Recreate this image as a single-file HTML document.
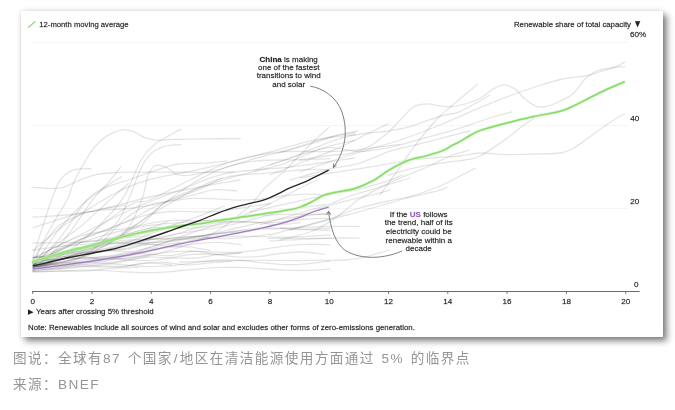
<!DOCTYPE html>
<html><head><meta charset="utf-8"><title>chart</title>
<style>
html,body{margin:0;padding:0;background:#fff;}
body{width:675px;height:410px;position:relative;overflow:hidden;font-family:"Liberation Sans","Noto Sans CJK SC",sans-serif;}
.card{position:absolute;left:21px;top:11px;width:642px;height:326px;background:#fff;box-shadow:4px 4px 6.5px rgba(0,0,0,0.48),0 0 5px rgba(0,0,0,0.13);}
.cap{will-change:transform;position:absolute;left:13px;color:#959595;font-size:13.6px;letter-spacing:1.4px;font-weight:400;white-space:nowrap;line-height:20px;word-spacing:1.7px;}
.cap i{font-style:normal;margin:0 0.9px;}
</style></head><body>
<div class="card"></div>
<svg width="675" height="410" viewBox="0 0 675 410" style="position:absolute;left:0;top:0;will-change:transform">
<line x1="32" y1="42.5" x2="628" y2="42.5" stroke="#f5f5f5" stroke-width="1"/>
<line x1="32" y1="125.5" x2="628" y2="125.5" stroke="#f5f5f5" stroke-width="1"/>
<line x1="32" y1="208.5" x2="628" y2="208.5" stroke="#f5f5f5" stroke-width="1"/>
<g style="filter:blur(0.45px)">
<g fill="none" stroke="#000" stroke-opacity="0.105" stroke-width="1.3" stroke-linecap="round">
<path d="M300.0,160.0 C305.0,159.2 321.8,156.6 330.0,155.5 C338.2,154.4 343.0,155.1 349.5,153.6 C356.0,152.1 364.1,149.0 369.0,146.7 C373.9,144.4 375.5,142.3 378.8,139.9 C382.1,137.5 385.4,134.9 388.6,132.0 C391.9,129.1 395.1,125.7 398.3,122.3 C401.5,118.9 405.1,114.4 408.0,111.6 C410.9,108.8 412.6,107.0 415.9,105.7 C419.2,104.4 423.7,103.8 427.6,103.8 C431.5,103.8 435.4,105.2 439.3,105.7 C443.2,106.2 446.7,107.0 451.0,106.7 C455.3,106.4 460.2,105.4 465.0,104.0 C469.8,102.6 475.3,100.8 480.0,98.3 C484.7,95.8 489.4,91.1 493.4,88.9 C497.4,86.7 500.5,84.9 504.1,84.9 C507.7,84.9 511.3,86.5 514.9,88.9 C518.5,91.4 522.0,96.7 525.6,99.6 C529.2,102.5 532.7,105.2 536.3,106.3 C539.9,107.4 543.0,107.2 547.0,106.3 C551.0,105.4 556.0,103.2 560.5,101.0 C565.0,98.8 569.9,96.5 573.9,92.9 C577.9,89.3 581.0,83.1 584.6,79.5 C588.2,75.9 591.3,73.4 595.3,71.5 C599.3,69.6 603.8,69.0 608.7,68.2 C613.6,67.4 622.1,66.9 624.8,66.6"/>
<path d="M300.0,172.0 C303.3,170.8 311.7,167.8 320.0,165.0 C328.3,162.2 336.7,159.2 350.0,155.0 C363.3,150.8 385.0,145.0 400.0,140.0 C415.0,135.0 426.7,130.4 440.0,125.0 C453.3,119.6 468.9,112.4 480.0,107.7 C491.1,103.0 497.9,100.3 506.8,96.9 C515.7,93.5 524.6,90.4 533.6,87.5 C542.6,84.6 551.5,81.5 560.5,79.5 C569.5,77.5 580.6,76.8 587.3,75.5 C594.0,74.2 596.2,72.8 600.7,71.5 C605.2,70.2 610.0,69.0 614.0,67.4 C618.0,65.8 623.0,62.9 624.8,62.0"/>
<path d="M300.0,178.0 C305.0,177.2 318.5,174.8 330.0,173.0 C341.5,171.2 356.0,169.3 369.0,167.2 C382.0,165.1 396.6,162.0 408.0,160.4 C419.4,158.8 428.7,158.2 437.4,157.5 C446.1,156.8 452.9,156.8 460.0,156.0 C467.1,155.2 472.2,153.2 480.0,153.0 C487.8,152.8 497.9,154.4 506.8,154.6 C515.7,154.8 524.6,154.3 533.6,154.0 C542.6,153.7 553.8,154.0 560.5,153.0 C567.2,152.0 569.4,150.3 573.9,147.9 C578.4,145.5 582.8,141.7 587.3,138.5 C591.8,135.3 596.2,132.1 600.7,129.0 C605.2,125.9 610.0,122.2 614.0,119.7 C618.0,117.2 623.0,114.8 624.8,113.8"/>
<path d="M388.6,175.0 C393.5,173.7 408.1,169.3 417.8,167.2 C427.5,165.1 439.1,163.5 447.0,162.3 C454.9,161.1 459.5,161.1 465.0,160.0 C470.5,158.9 473.0,159.6 480.0,156.0 C487.0,152.4 500.1,143.2 506.8,138.5 C513.5,133.8 515.5,131.2 520.0,127.8 C524.5,124.5 530.0,120.9 533.6,118.4 C537.2,115.9 540.4,113.9 541.7,113.0"/>
<path d="M380.0,195.0 C382.4,191.7 389.7,181.6 394.4,175.0 C399.1,168.4 404.1,161.0 408.0,155.5 C411.9,150.0 414.5,146.1 417.8,141.8 C421.1,137.6 424.0,134.2 427.6,130.0 C431.2,125.8 435.4,120.4 439.3,116.5 C443.2,112.6 447.6,109.6 451.0,106.7 C454.4,103.8 455.5,102.7 460.0,98.9 C464.5,95.1 475.0,86.5 478.0,84.0"/>
<path d="M255.0,170.0 C260.8,168.0 277.5,162.7 290.0,158.0 C302.5,153.3 320.1,145.5 330.0,141.8 C339.9,138.1 343.0,137.5 349.5,136.0 C356.0,134.5 362.5,133.8 369.0,133.0 C375.5,132.2 382.1,132.0 388.6,131.0 C395.1,130.0 401.5,129.0 408.0,127.2 C414.5,125.4 421.1,122.5 427.6,120.4 C434.1,118.3 441.6,116.0 447.0,114.5 C452.4,113.0 452.8,114.8 460.0,111.6 C467.2,108.3 485.0,97.8 490.0,95.0"/>
<path d="M270.0,165.0 C275.0,163.3 290.0,157.9 300.0,155.0 C310.0,152.1 320.1,148.3 330.0,147.7 C339.9,147.1 349.5,151.6 359.3,151.6 C369.1,151.6 378.9,149.6 388.6,147.7 C398.4,145.8 409.4,142.2 417.8,139.9 C426.2,137.6 432.3,135.9 439.3,134.0 C446.3,132.1 451.6,130.9 460.0,128.2 C468.4,125.5 481.3,120.7 490.0,118.0 C498.7,115.3 508.3,113.0 512.0,112.0"/>
<path d="M270.0,175.0 C275.0,173.0 290.0,166.9 300.0,163.0 C310.0,159.1 321.8,155.0 330.0,151.6 C338.2,148.2 343.0,145.9 349.5,142.8 C356.0,139.7 362.6,136.2 369.0,133.0 C375.4,129.8 385.0,125.4 388.2,123.9"/>
<path d="M280.0,152.0 C285.0,150.5 301.7,145.5 310.0,143.0 C318.3,140.5 322.1,139.0 330.0,137.0 C337.9,135.0 352.8,132.0 357.3,131.0"/>
<path d="M290.0,180.0 C296.7,178.2 318.4,171.8 330.0,169.0 C341.6,166.2 349.5,166.2 359.3,163.3 C369.1,160.4 380.5,154.4 388.6,151.6 C396.7,148.8 401.5,148.3 408.0,146.7 C414.5,145.1 420.6,143.6 427.6,141.8 C434.6,140.0 442.9,137.8 450.0,136.0 C457.1,134.2 466.7,131.8 470.0,131.0"/>
<path d="M280.0,240.0 C285.0,238.7 301.7,235.1 310.0,232.0 C318.3,228.9 324.1,225.3 330.0,221.6 C335.9,217.9 340.7,213.7 345.6,209.9 C350.5,206.1 353.8,202.6 359.3,199.0 C364.8,195.4 372.3,191.8 378.8,188.4 C385.3,185.0 391.8,181.6 398.3,178.7 C404.8,175.8 412.3,173.2 417.8,170.9 C423.3,168.6 426.1,167.5 431.5,165.0 C436.9,162.5 443.6,158.5 450.0,156.0 C456.4,153.5 466.7,151.0 470.0,150.0"/>
<path d="M270.0,235.0 C275.0,233.7 290.0,229.7 300.0,227.0 C310.0,224.3 320.1,221.9 330.0,218.7 C339.9,215.5 349.5,210.9 359.3,208.0 C369.1,205.1 378.9,203.1 388.6,201.0 C398.4,198.9 409.4,197.1 417.8,195.3 C426.2,193.5 434.4,191.7 439.3,190.4 C444.2,189.1 445.7,187.9 447.0,187.4"/>
<path d="M260.0,225.0 C266.7,223.0 288.3,216.5 300.0,213.0 C311.7,209.5 321.8,206.8 330.0,204.0 C338.2,201.2 343.0,198.3 349.5,196.0 C356.0,193.7 362.5,192.3 369.0,190.4 C375.5,188.5 381.8,186.6 388.6,184.5 C395.4,182.4 406.4,179.1 410.0,178.0"/>
<path d="M250.0,212.0 C256.7,210.5 276.7,205.9 290.0,203.0 C303.3,200.1 318.5,196.6 330.0,194.3 C341.5,192.0 349.2,191.3 359.0,189.0 C368.8,186.7 381.4,182.9 388.6,180.6 C395.8,178.3 399.8,175.9 402.0,175.0"/>
<path d="M290.0,230.0 C299.5,227.5 328.5,220.0 346.8,215.0 C365.1,210.0 384.5,204.8 400.0,200.0 C415.5,195.2 430.0,190.0 440.0,186.0 C450.0,182.0 454.1,179.0 460.0,176.0 C465.9,173.0 472.9,169.3 475.5,168.0"/>
<path d="M280.0,228.0 C288.3,227.8 316.8,226.8 330.0,226.5 C343.2,226.2 354.2,226.5 359.0,226.5"/>
<path d="M270.0,241.0 C280.0,240.5 315.2,238.7 330.0,238.2 C344.8,237.7 354.2,238.2 359.0,238.2"/>
<path d="M180.0,262.0 C190.0,261.8 220.0,260.8 240.0,260.5 C260.0,260.2 282.5,260.6 300.0,260.5 C317.5,260.4 334.2,260.6 345.0,260.0 C355.8,259.4 357.7,258.7 365.0,257.0 C372.3,255.3 385.0,251.2 389.0,250.0"/>
<path d="M267.7,238.4 C273.1,238.4 289.3,238.4 300.0,238.4 C310.7,238.4 326.4,238.4 331.7,238.4"/>
<path d="M33.0,268.0 C34.1,264.8 36.2,256.3 39.7,248.6 C43.2,240.9 49.5,230.1 54.0,222.0 C58.5,213.9 63.8,206.3 67.0,200.0 C70.2,193.7 70.7,189.2 73.0,184.0 C75.3,178.8 78.4,173.0 80.7,168.8 C83.0,164.6 84.3,162.6 86.6,159.0 C88.9,155.4 91.2,151.0 94.4,147.3 C97.6,143.6 101.5,139.5 106.0,136.6 C110.5,133.7 117.1,130.6 121.7,129.8 C126.3,129.0 129.5,130.4 133.4,131.7 C137.3,133.0 140.9,136.2 145.0,137.6 C149.1,139.0 154.0,140.0 158.0,140.3 C162.0,140.6 160.7,139.7 169.0,139.5 C177.3,139.3 196.1,139.1 208.0,138.9 C219.9,138.7 234.9,138.6 240.3,138.5"/>
<path d="M31.9,187.3 C34.5,187.5 42.3,188.3 47.5,188.3 C52.7,188.3 57.8,188.6 63.0,187.3 C68.2,186.0 73.2,182.6 78.8,180.5 C84.3,178.4 90.1,176.0 96.3,174.7 C102.5,173.4 109.3,172.9 115.8,172.5 C122.3,172.1 128.4,172.2 135.4,172.2 C142.4,172.1 147.2,172.2 158.0,172.2 C168.8,172.2 187.3,172.3 200.0,172.3 C212.7,172.3 228.3,172.1 234.0,172.0"/>
<path d="M33.0,256.0 C34.2,252.5 37.5,242.7 40.0,235.0 C42.5,227.3 45.5,217.5 48.0,210.0 C50.5,202.5 53.1,195.2 55.3,190.0 C57.5,184.8 58.6,181.8 61.2,178.6 C63.8,175.4 67.8,172.4 71.0,170.8 C74.2,169.2 77.3,169.1 80.7,168.8 C84.1,168.5 89.6,168.8 91.4,168.8"/>
<path d="M33.0,243.0 C37.5,242.9 51.2,242.9 60.0,242.7 C68.8,242.5 76.0,242.8 86.0,242.0 C96.0,241.2 109.3,239.7 120.0,238.0 C130.7,236.3 140.8,234.3 150.0,232.0 C159.2,229.7 170.8,225.3 175.0,224.0"/>
<path d="M33.0,270.0 C37.5,265.8 52.2,253.7 60.0,245.0 C67.8,236.3 74.6,225.5 80.0,218.0 C85.4,210.5 87.4,206.2 92.4,200.0 C97.4,193.8 105.3,186.0 110.0,180.5 C114.7,175.0 118.9,169.1 120.7,166.8"/>
<path d="M33.0,266.0 C37.5,261.3 51.1,249.0 60.0,238.0 C68.9,227.0 78.9,208.6 86.6,200.0 C94.3,191.4 100.2,190.3 106.0,186.4 C111.8,182.5 119.1,178.2 121.7,176.6"/>
<path d="M33.0,270.0 C39.2,266.7 58.8,257.5 70.0,250.0 C81.2,242.5 91.4,233.3 100.0,225.0 C108.6,216.7 116.7,206.8 121.7,200.0 C126.7,193.2 126.7,191.2 130.0,184.4 C133.3,177.6 137.8,165.5 141.7,159.0 C145.6,152.5 148.8,149.3 153.4,145.4 C158.0,141.5 164.4,138.3 169.0,135.6 C173.6,132.9 178.8,130.4 180.8,129.4"/>
<path d="M33.0,268.0 C40.8,265.3 66.3,259.2 80.0,252.0 C93.7,244.8 106.7,234.3 115.0,225.0 C123.3,215.7 125.9,205.0 130.0,196.0 C134.1,187.0 136.6,177.6 139.8,170.8 C143.1,164.0 145.9,158.9 149.5,155.0 C153.1,151.1 157.3,149.0 161.2,147.3 C165.1,145.6 169.7,145.4 173.0,145.0 C176.3,144.6 179.7,144.7 181.0,144.6"/>
<path d="M33.0,265.0 C42.5,262.8 74.7,257.5 90.0,252.0 C105.3,246.5 116.4,240.7 125.0,232.0 C133.6,223.3 137.9,209.2 141.7,200.0 C145.5,190.8 145.6,182.1 147.6,176.6 C149.6,171.1 151.4,168.7 153.4,166.8 C155.4,164.9 157.0,165.1 159.3,165.3 C161.6,165.5 164.4,166.4 167.0,167.8 C169.6,169.2 172.1,172.4 175.0,173.7 C177.9,175.0 180.8,175.6 184.7,175.6 C188.6,175.6 192.8,174.7 198.3,173.7 C203.8,172.7 211.3,171.4 217.8,169.8 C224.3,168.2 230.4,166.0 237.4,163.9 C244.4,161.8 251.2,159.3 260.0,157.0 C268.8,154.7 280.0,152.7 290.0,150.0 C300.0,147.3 312.9,143.2 320.0,141.0 C327.1,138.8 326.6,137.9 332.4,136.5 C338.2,135.1 351.2,133.2 355.0,132.6"/>
<path d="M33.0,271.0 C47.5,269.5 92.2,267.2 120.0,262.0 C147.8,256.8 179.2,248.7 200.0,240.0 C220.8,231.3 234.3,218.5 245.0,210.0 C255.7,201.5 257.6,195.4 264.0,189.0 C270.4,182.6 277.1,177.8 283.6,171.6 C290.1,165.4 297.5,157.5 303.0,152.0 C308.5,146.5 312.4,142.5 316.7,138.4 C320.9,134.3 326.5,129.5 328.5,127.7"/>
<path d="M33.0,262.0 C40.8,258.3 63.8,249.5 80.0,240.0 C96.2,230.5 118.4,211.7 130.0,205.0 C141.6,198.3 139.5,204.2 149.5,200.0 C159.5,195.8 177.4,186.0 190.0,180.0 C202.6,174.0 211.0,168.6 225.0,163.8 C239.0,159.0 259.2,154.9 273.8,151.0 C288.4,147.1 299.3,143.2 312.8,140.4 C326.3,137.7 348.0,135.5 355.0,134.5"/>
<path d="M33.0,268.0 C42.5,265.0 72.2,257.2 90.0,250.0 C107.8,242.8 126.8,233.3 140.0,225.0 C153.2,216.7 154.8,207.6 169.0,200.0 C183.2,192.4 205.9,185.4 225.0,179.4 C244.1,173.4 267.3,169.0 283.6,163.8 C299.9,158.6 310.7,152.1 322.6,148.2 C334.5,144.3 349.6,141.7 355.0,140.4"/>
<path d="M33.0,258.0 C40.8,254.2 63.8,243.0 80.0,235.0 C96.2,227.0 113.3,217.5 130.0,210.0 C146.7,202.5 164.2,196.1 180.0,190.0 C195.8,183.9 207.7,177.3 225.0,173.6 C242.3,169.9 267.8,169.5 283.6,167.7 C299.4,165.9 308.1,164.6 320.0,163.0 C331.9,161.4 349.2,158.8 355.0,158.0"/>
<path d="M33.0,217.0 C40.0,216.5 62.2,215.7 75.0,214.0 C87.8,212.3 97.5,209.8 110.0,207.0 C122.5,204.2 135.0,200.3 150.0,197.0 C165.0,193.7 185.0,189.8 200.0,187.0 C215.0,184.2 233.3,181.2 240.0,180.0"/>
<path d="M33.0,250.6 C36.8,247.4 48.3,237.3 55.9,231.4 C63.6,225.5 71.2,220.4 78.9,215.3 C86.5,210.2 94.2,205.3 101.8,200.8 C109.5,196.3 117.1,191.8 124.8,188.4 C132.4,184.9 140.0,182.3 147.7,180.1 C155.3,177.9 163.0,176.5 170.6,174.9 C178.3,173.3 185.9,172.2 193.6,170.6 C201.2,169.0 208.9,167.2 216.5,165.3 C224.1,163.4 231.8,161.2 239.4,159.3 C247.1,157.5 254.7,155.6 262.4,154.3 C270.0,153.0 277.7,152.2 285.3,151.7 C293.0,151.3 300.6,151.5 308.2,151.5 C315.9,151.4 323.5,151.8 331.2,151.5 C338.8,151.3 346.5,150.9 354.1,150.2 C361.8,149.5 369.4,148.2 377.1,147.2 C384.7,146.2 396.2,144.8 400.0,144.3"/>
<path d="M33.0,265.3 C36.8,264.9 48.2,264.2 55.8,262.9 C63.5,261.6 71.1,260.2 78.7,257.6 C86.3,255.1 93.9,251.6 101.5,247.6 C109.2,243.6 116.8,238.6 124.4,233.5 C132.0,228.3 139.6,222.3 147.2,216.6 C154.8,210.8 162.5,204.6 170.1,199.0 C177.7,193.5 185.3,187.9 192.9,183.3 C200.5,178.7 208.2,174.5 215.8,171.3 C223.4,168.0 231.0,165.5 238.6,163.7 C246.2,161.9 253.8,161.1 261.5,160.5 C269.1,159.9 276.7,160.1 284.3,159.9 C291.9,159.8 299.5,160.0 307.2,159.8 C314.8,159.5 326.2,158.8 330.0,158.6"/>
<path d="M33.0,257.5 C36.8,257.0 48.2,256.0 55.8,254.9 C63.5,253.9 71.1,253.0 78.7,251.3 C86.3,249.5 93.9,247.6 101.5,244.4 C109.2,241.2 116.8,236.4 124.4,231.9 C132.0,227.3 139.6,221.9 147.2,217.2 C154.8,212.4 162.5,207.7 170.1,203.2 C177.7,198.7 185.3,194.2 192.9,190.3 C200.5,186.5 208.2,182.7 215.8,180.2 C223.4,177.7 231.0,176.3 238.6,175.2 C246.2,174.1 253.8,174.2 261.5,173.6 C269.1,173.0 276.7,172.2 284.3,171.6 C291.9,170.9 299.5,169.8 307.2,169.5 C314.8,169.2 326.2,169.7 330.0,169.8"/>
<path d="M33.0,265.2 C37.0,265.0 48.8,264.9 56.8,264.1 C64.7,263.3 72.6,261.9 80.5,260.7 C88.4,259.4 96.3,257.9 104.2,256.5 C112.2,255.2 120.1,254.2 128.0,252.6 C135.9,250.9 143.8,249.1 151.8,246.8 C159.7,244.6 167.6,241.6 175.5,238.8 C183.4,236.1 191.3,233.0 199.2,230.2 C207.2,227.5 215.1,225.0 223.0,222.2 C230.9,219.5 238.8,217.0 246.8,213.8 C254.7,210.6 262.6,207.0 270.5,203.3 C278.4,199.5 286.3,195.1 294.2,191.1 C302.2,187.1 314.0,181.2 318.0,179.2"/>
<path d="M33.0,260.6 C36.7,260.4 47.9,259.9 55.3,259.5 C62.8,259.0 70.2,258.3 77.6,257.9 C85.1,257.5 92.5,257.3 99.9,257.0 C107.4,256.6 114.8,256.6 122.2,255.7 C129.7,254.9 137.1,253.4 144.6,251.9 C152.0,250.3 159.4,248.1 166.9,246.3 C174.3,244.4 181.8,242.4 189.2,240.9 C196.6,239.3 204.1,238.1 211.5,236.9 C218.9,235.8 226.4,235.0 233.8,233.9 C241.2,232.7 248.7,231.6 256.1,229.9 C263.6,228.2 271.0,226.0 278.4,223.7 C285.9,221.3 293.3,218.3 300.8,215.7 C308.2,213.0 315.6,210.1 323.1,207.7 C330.5,205.3 337.9,203.2 345.4,201.2 C352.8,199.3 360.2,197.8 367.7,195.9 C375.1,194.0 386.3,190.9 390.0,189.8"/>
<path d="M33.0,227.8 C36.8,226.5 48.2,222.6 55.8,220.3 C63.5,217.9 71.1,215.2 78.7,213.6 C86.3,211.9 93.9,210.9 101.5,210.1 C109.2,209.3 116.8,209.7 124.4,209.0 C132.0,208.3 139.6,207.2 147.2,205.9 C154.8,204.7 162.5,202.5 170.1,201.3 C177.7,200.0 185.3,198.8 192.9,198.4 C200.5,198.0 208.2,198.5 215.8,198.8 C223.4,199.1 231.0,200.1 238.6,200.2 C246.2,200.2 253.8,199.8 261.5,199.1 C269.1,198.4 276.7,196.8 284.3,196.0 C291.9,195.1 299.5,194.3 307.2,194.2 C314.8,194.1 326.2,195.3 330.0,195.5"/>
<path d="M33.0,265.0 C36.7,264.2 48.0,261.6 55.5,260.0 C62.9,258.5 70.4,257.2 77.9,255.8 C85.4,254.5 92.9,253.6 100.4,252.1 C107.9,250.6 115.4,248.8 122.8,247.0 C130.3,245.1 137.8,242.8 145.3,240.9 C152.8,239.0 160.3,237.1 167.8,235.6 C175.3,234.1 182.7,233.0 190.2,231.8 C197.7,230.6 205.2,229.7 212.7,228.4 C220.2,227.1 227.7,225.6 235.2,223.9 C242.6,222.2 250.1,220.1 257.6,218.2 C265.1,216.2 272.6,214.0 280.1,212.3 C287.6,210.5 295.1,209.0 302.5,207.7 C310.0,206.4 321.3,204.8 325.0,204.3"/>
<path d="M33.0,263.4 C36.8,262.8 48.2,261.2 55.8,259.8 C63.5,258.4 71.1,256.9 78.7,255.3 C86.3,253.7 93.9,251.8 101.5,250.3 C109.2,248.7 116.8,247.3 124.4,246.2 C132.0,245.0 139.6,244.2 147.2,243.3 C154.8,242.4 162.5,241.7 170.1,240.7 C177.7,239.7 185.3,238.7 192.9,237.3 C200.5,236.0 208.2,234.4 215.8,232.8 C223.4,231.1 231.0,229.2 238.6,227.5 C246.2,225.8 253.8,223.9 261.5,222.4 C269.1,220.9 276.7,219.6 284.3,218.5 C291.9,217.3 299.5,216.5 307.2,215.6 C314.8,214.7 326.2,213.4 330.0,213.0"/>
<path d="M33.0,257.3 C36.8,257.2 48.2,257.0 55.8,256.7 C63.5,256.4 71.1,256.6 78.7,255.6 C86.3,254.6 93.9,252.6 101.5,250.8 C109.2,249.0 116.8,246.4 124.4,244.7 C132.0,243.0 139.6,242.0 147.2,240.6 C154.8,239.1 162.5,237.8 170.1,235.8 C177.7,233.9 185.3,231.0 192.9,228.8 C200.5,226.7 208.2,224.1 215.8,222.8 C223.4,221.6 231.0,221.5 238.6,221.5 C246.2,221.5 253.8,222.7 261.5,222.7 C269.1,222.8 276.7,222.5 284.3,221.9 C291.9,221.2 299.5,219.6 307.2,219.0 C314.8,218.4 326.2,218.4 330.0,218.3"/>
<path d="M33.0,265.7 C36.8,265.5 48.2,265.0 55.8,264.5 C63.5,264.0 71.1,263.2 78.7,262.5 C86.3,261.8 93.9,261.6 101.5,260.4 C109.2,259.3 116.8,257.9 124.4,255.8 C132.0,253.8 139.6,250.6 147.2,248.2 C154.8,245.7 162.5,242.9 170.1,241.1 C177.7,239.2 185.3,238.0 192.9,236.8 C200.5,235.6 208.2,234.8 215.8,233.8 C223.4,232.7 231.0,231.4 238.6,230.4 C246.2,229.5 253.8,228.5 261.5,228.1 C269.1,227.8 276.7,228.1 284.3,228.3 C291.9,228.5 299.5,229.2 307.2,229.2 C314.8,229.2 326.2,228.6 330.0,228.4"/>
<path d="M33.0,250.2 C36.8,249.6 48.2,247.7 55.8,246.8 C63.5,245.9 71.1,245.5 78.7,244.8 C86.3,244.2 93.9,243.8 101.5,243.1 C109.2,242.3 116.8,241.1 124.4,240.4 C132.0,239.7 139.6,239.2 147.2,238.9 C154.8,238.7 162.5,239.1 170.1,239.1 C177.7,239.1 185.3,239.2 192.9,238.9 C200.5,238.6 208.2,237.8 215.8,237.3 C223.4,236.8 231.0,236.2 238.6,236.1 C246.2,236.0 253.8,236.5 261.5,236.6 C269.1,236.8 276.7,237.3 284.3,237.3 C291.9,237.2 299.5,236.7 307.2,236.4 C314.8,236.0 326.2,235.4 330.0,235.2"/>
<path d="M33.0,261.4 C36.8,261.1 48.2,260.0 55.8,259.5 C63.5,259.0 71.1,258.6 78.7,258.5 C86.3,258.4 93.9,259.2 101.5,259.1 C109.2,259.1 116.8,259.0 124.4,258.3 C132.0,257.6 139.6,256.1 147.2,255.0 C154.8,254.0 162.5,252.5 170.1,251.9 C177.7,251.2 185.3,251.1 192.9,251.1 C200.5,251.2 208.2,252.0 215.8,252.1 C223.4,252.3 231.0,252.6 238.6,252.2 C246.2,251.7 253.8,250.7 261.5,249.6 C269.1,248.6 276.7,247.0 284.3,246.1 C291.9,245.2 299.5,244.5 307.2,244.3 C314.8,244.1 326.2,244.8 330.0,244.9"/>
<path d="M33.0,271.1 C36.7,270.6 48.0,269.1 55.5,267.9 C62.9,266.7 70.4,265.4 77.9,264.0 C85.4,262.6 92.9,260.4 100.4,259.6 C107.9,258.9 115.4,259.4 122.8,259.6 C130.3,259.8 137.8,260.9 145.3,260.7 C152.8,260.5 160.3,259.4 167.8,258.3 C175.3,257.3 182.7,255.2 190.2,254.5 C197.7,253.8 205.2,253.9 212.7,254.2 C220.2,254.6 227.7,256.3 235.2,256.8 C242.6,257.2 250.1,257.3 257.6,256.7 C265.1,256.2 272.6,254.3 280.1,253.5 C287.6,252.7 295.1,251.8 302.5,252.0 C310.0,252.1 321.3,254.0 325.0,254.4"/>
<path d="M33.0,266.4 C36.8,266.4 48.2,266.7 55.8,266.4 C63.5,266.2 71.1,265.3 78.7,264.8 C86.3,264.3 93.9,263.4 101.5,263.4 C109.2,263.4 116.8,264.3 124.4,264.8 C132.0,265.4 139.6,266.4 147.2,266.6 C154.8,266.7 162.5,266.5 170.1,265.9 C177.7,265.3 185.3,263.8 192.9,262.9 C200.5,261.9 208.2,260.6 215.8,260.2 C223.4,259.7 231.0,259.8 238.6,260.2 C246.2,260.6 253.8,261.9 261.5,262.6 C269.1,263.4 276.7,264.4 284.3,264.6 C291.9,264.8 299.5,264.4 307.2,263.8 C314.8,263.2 326.2,261.6 330.0,261.1"/>
<path d="M33.0,272.0 C36.8,271.9 48.2,271.5 55.8,271.2 C63.5,270.9 71.1,270.2 78.7,270.1 C86.3,270.0 93.9,270.0 101.5,270.3 C109.2,270.6 116.8,271.5 124.4,271.9 C132.0,272.3 139.6,272.7 147.2,272.6 C154.8,272.5 162.5,272.1 170.1,271.6 C177.7,271.0 185.3,270.0 192.9,269.4 C200.5,268.7 208.2,267.9 215.8,267.6 C223.4,267.2 231.0,267.2 238.6,267.4 C246.2,267.6 253.8,268.2 261.5,268.7 C269.1,269.2 276.7,269.9 284.3,270.2 C291.9,270.5 299.5,270.6 307.2,270.4 C314.8,270.2 326.2,269.2 330.0,268.9"/>
<path d="M33.0,267.8 C37.0,261.8 49.1,242.0 57.2,231.6 C65.2,221.2 73.3,212.8 81.4,205.5 C89.4,198.2 97.5,192.2 105.6,187.9 C113.6,183.6 121.7,182.4 129.7,179.5 C137.8,176.7 145.9,173.5 153.9,170.9 C162.0,168.3 170.1,165.3 178.1,164.0 C186.2,162.7 194.2,163.7 202.3,163.2 C210.4,162.7 222.5,161.3 226.5,160.9"/>
<path d="M33.0,262.4 C36.9,260.7 48.7,255.9 56.6,252.2 C64.4,248.4 72.3,243.5 80.2,239.9 C88.0,236.4 95.9,234.0 103.7,231.0 C111.6,227.9 119.5,225.2 127.3,221.5 C135.2,217.8 143.0,212.6 150.9,208.7 C158.8,204.9 166.6,201.5 174.5,198.3 C182.4,195.2 190.2,193.3 198.1,189.9 C205.9,186.5 217.7,180.0 221.7,178.0"/>
<path d="M33.0,267.3 C36.8,266.7 48.1,264.9 55.7,263.5 C63.2,262.0 70.8,262.1 78.3,258.7 C85.9,255.3 93.4,249.4 101.0,243.0 C108.6,236.6 116.1,226.3 123.7,220.1 C131.2,213.9 138.8,209.1 146.3,205.9 C153.9,202.7 161.4,202.6 169.0,200.9 C176.6,199.1 184.1,197.1 191.7,195.3 C199.2,193.4 206.8,190.5 214.3,189.8 C221.9,189.1 233.2,190.8 237.0,190.9"/>
<path d="M33.0,257.3 C37.0,257.0 48.9,256.1 56.9,255.3 C64.9,254.6 72.8,253.8 80.8,252.6 C88.8,251.5 96.7,250.4 104.7,248.6 C112.7,246.8 120.6,244.4 128.6,241.8 C136.6,239.2 144.6,236.0 152.5,233.1 C160.5,230.1 168.5,227.1 176.4,224.2 C184.4,221.2 192.4,218.6 200.3,215.6 C208.3,212.5 220.2,207.6 224.2,206.0"/>
<path d="M33.0,258.9 C37.0,256.8 48.9,250.2 56.9,246.4 C64.9,242.6 72.9,238.6 80.8,236.0 C88.8,233.4 96.8,232.3 104.7,231.0 C112.7,229.6 120.7,229.3 128.7,227.9 C136.6,226.6 144.6,224.1 152.6,222.8 C160.6,221.6 168.5,220.5 176.5,220.2 C184.5,219.9 192.4,221.1 200.4,220.9 C208.4,220.8 216.4,220.1 224.3,219.4 C232.3,218.6 244.3,217.1 248.2,216.6"/>
<path d="M33.0,261.1 C36.8,260.6 48.3,259.4 55.9,258.2 C63.6,257.0 71.2,255.0 78.9,253.8 C86.5,252.6 94.2,251.9 101.8,251.0 C109.4,250.1 117.1,249.8 124.7,248.5 C132.4,247.2 140.0,244.4 147.7,243.3 C155.3,242.2 163.0,242.7 170.6,241.8 C178.2,240.9 185.9,239.0 193.5,237.7 C201.2,236.3 208.8,234.5 216.5,233.6 C224.1,232.7 235.6,232.3 239.4,232.1"/>
<path d="M33.0,267.8 C36.9,266.7 48.4,263.3 56.1,260.9 C63.8,258.5 71.6,255.2 79.3,253.5 C87.0,251.9 94.7,251.6 102.4,250.9 C110.1,250.2 117.8,250.5 125.5,249.4 C133.2,248.3 141.0,245.0 148.7,244.5 C156.4,244.0 164.1,246.5 171.8,246.4 C179.5,246.3 187.2,244.6 194.9,243.9 C202.6,243.2 210.4,242.2 218.1,242.3 C225.8,242.5 237.3,244.4 241.2,244.8"/>
<path d="M33.0,264.9 C36.9,264.6 48.5,263.6 56.2,263.1 C64.0,262.6 71.7,262.0 79.5,262.0 C87.2,262.0 95.0,263.2 102.7,262.9 C110.5,262.6 118.2,261.2 126.0,260.2 C133.7,259.3 141.5,257.6 149.2,257.2 C157.0,256.8 164.7,257.9 172.5,258.0 C180.2,258.1 188.0,258.6 195.7,258.0 C203.5,257.4 211.2,255.3 219.0,254.4 C226.7,253.5 238.3,253.0 242.2,252.7"/>
<path d="M33.0,268.9 C36.7,269.0 47.7,269.5 55.0,269.1 C62.3,268.7 69.7,266.9 77.0,266.5 C84.3,266.2 91.7,267.0 99.0,267.0 C106.3,267.1 113.7,267.7 121.0,267.1 C128.3,266.4 135.7,263.8 143.0,263.1 C150.3,262.3 157.7,262.2 165.0,262.5 C172.3,262.8 179.7,264.8 187.0,264.9 C194.3,265.0 201.7,263.5 209.0,262.9 C216.3,262.3 227.4,261.6 231.0,261.4"/>
<path d="M33.0,265.1 C37.0,261.5 48.9,250.3 56.8,243.9 C64.7,237.5 72.7,233.0 80.6,226.5 C88.5,220.0 96.5,212.1 104.4,204.9 C112.3,197.8 124.2,187.2 128.2,183.6"/>
<path d="M33.0,259.3 C36.9,254.1 48.4,235.6 56.2,228.2 C63.9,220.9 71.6,218.4 79.3,215.2 C87.0,212.0 94.8,210.6 102.5,209.0 C110.2,207.4 121.8,205.9 125.6,205.3"/>
<path d="M33.0,263.6 C36.8,262.5 48.0,259.2 55.5,256.8 C63.0,254.4 70.6,251.4 78.1,249.2 C85.6,246.9 93.1,245.8 100.6,243.5 C108.1,241.2 115.6,237.5 123.1,235.2 C130.6,232.8 138.1,231.7 145.7,229.5 C153.2,227.2 164.4,223.0 168.2,221.7"/>
<path d="M33.0,261.0 C37.2,260.6 49.7,260.6 58.1,258.5 C66.4,256.5 74.8,251.7 83.2,248.5 C91.5,245.3 99.9,241.3 108.3,239.4 C116.6,237.5 125.0,237.8 133.3,237.2 C141.7,236.5 154.3,235.5 158.4,235.2"/>
<path d="M33.0,267.1 C37.2,266.7 49.7,265.8 58.1,265.0 C66.4,264.3 74.8,263.2 83.1,262.4 C91.5,261.7 99.8,262.1 108.2,260.6 C116.5,259.1 124.9,255.6 133.2,253.3 C141.6,251.1 154.1,248.1 158.3,247.0"/>
<path d="M33.0,267.0 C36.9,266.5 48.5,265.2 56.2,263.8 C63.9,262.3 71.6,259.1 79.4,258.2 C87.1,257.3 94.8,258.3 102.6,258.3 C110.3,258.4 118.0,258.9 125.8,258.3 C133.5,257.8 145.1,255.7 148.9,255.1"/>
<path d="M33.0,267.5 C36.8,267.6 48.4,268.4 56.1,268.0 C63.8,267.6 71.5,265.5 79.1,265.1 C86.8,264.8 94.5,265.7 102.2,265.9 C109.9,266.1 117.6,266.7 125.3,266.2 C133.0,265.7 140.7,263.2 148.4,263.1 C156.1,262.9 167.6,264.7 171.4,265.0"/>
<path d="M33.0,271.5 C37.4,271.5 50.5,271.4 59.2,271.3 C67.9,271.2 76.7,271.4 85.4,270.9 C94.1,270.4 102.9,268.9 111.6,268.3 C120.4,267.7 133.5,267.5 137.8,267.4"/>
<path d="M33.0,268.5 C37.0,265.4 48.8,255.1 56.7,250.2 C64.6,245.3 72.5,242.5 80.4,239.2 C88.3,236.0 96.2,233.7 104.1,230.6 C112.0,227.6 119.9,223.9 127.8,221.1 C135.7,218.3 143.6,215.5 151.5,213.9 C159.4,212.3 167.3,211.8 175.2,211.5 C183.1,211.2 191.0,212.0 198.9,211.9 C206.8,211.8 214.7,211.7 222.6,210.9 C230.5,210.1 238.4,208.3 246.3,207.1 C254.2,205.8 266.1,204.1 270.0,203.5"/>
<path d="M33.0,262.6 C36.8,260.8 48.2,255.1 55.8,251.9 C63.5,248.7 71.1,246.1 78.7,243.5 C86.3,240.8 93.9,238.4 101.5,236.1 C109.2,233.9 116.8,231.7 124.4,230.0 C132.0,228.2 139.6,226.9 147.2,225.8 C154.8,224.7 162.5,224.0 170.1,223.4 C177.7,222.7 185.3,222.3 192.9,221.8 C200.5,221.2 208.2,220.7 215.8,220.0 C223.4,219.4 231.0,218.5 238.6,217.8 C246.2,217.0 253.8,216.2 261.5,215.6 C269.1,215.0 276.7,214.5 284.3,214.3 C291.9,214.0 299.5,214.1 307.2,214.1 C314.8,214.2 326.2,214.5 330.0,214.5"/>
<path d="M33.0,260.5 C36.7,258.9 47.8,253.6 55.2,250.7 C62.7,247.7 70.1,244.6 77.5,242.8 C84.9,241.0 92.3,241.1 99.8,239.9 C107.2,238.8 114.6,237.5 122.0,235.7 C129.4,233.9 136.8,230.6 144.2,229.2 C151.7,227.8 159.1,227.3 166.5,227.2 C173.9,227.1 181.3,228.6 188.8,228.4 C196.2,228.3 203.6,227.2 211.0,226.2 C218.4,225.1 225.8,222.6 233.2,222.0 C240.7,221.4 248.1,221.9 255.5,222.3 C262.9,222.8 270.3,224.6 277.8,224.6 C285.2,224.6 296.3,222.9 300.0,222.6"/>
<path d="M33.0,270.4 C36.8,268.9 48.2,264.2 55.8,261.4 C63.5,258.6 71.1,256.0 78.7,253.5 C86.3,251.0 93.9,248.4 101.5,246.5 C109.2,244.5 116.8,243.0 124.4,241.8 C132.0,240.7 139.6,240.1 147.2,239.5 C154.8,239.0 162.5,238.8 170.1,238.3 C177.7,237.8 185.3,237.4 192.9,236.7 C200.5,236.0 208.2,235.0 215.8,234.1 C223.4,233.2 231.0,232.0 238.6,231.2 C246.2,230.4 253.8,229.6 261.5,229.2 C269.1,228.8 276.7,228.8 284.3,228.9 C291.9,229.0 299.5,229.5 307.2,229.7 C314.8,230.0 326.2,230.4 330.0,230.5"/>
<path d="M33.0,262.4 C37.0,261.3 48.8,257.9 56.7,255.6 C64.6,253.4 72.5,251.1 80.4,249.1 C88.3,247.1 96.2,244.5 104.1,243.5 C112.0,242.6 119.9,243.6 127.8,243.4 C135.7,243.1 143.6,243.0 151.5,242.1 C159.4,241.1 167.3,238.5 175.2,237.6 C183.1,236.7 191.0,236.4 198.9,236.5 C206.8,236.7 214.7,238.5 222.6,238.7 C230.5,238.8 238.4,238.0 246.3,237.2 C254.2,236.5 266.1,234.6 270.0,234.1"/>
<path d="M33.0,264.2 C37.1,262.8 49.3,257.6 57.5,255.4 C65.7,253.1 73.8,252.7 82.0,250.8 C90.2,249.0 98.3,245.4 106.5,244.0 C114.7,242.6 122.8,242.5 131.0,242.6 C139.2,242.7 147.3,244.8 155.5,244.8 C163.7,244.8 175.9,242.9 180.0,242.5"/>
<path d="M33.0,269.8 C36.7,268.7 47.8,264.5 55.1,262.8 C62.5,261.0 69.9,261.1 77.2,259.2 C84.6,257.4 92.0,253.0 99.4,251.7 C106.8,250.4 114.1,251.1 121.5,251.3 C128.9,251.5 136.2,253.2 143.6,252.7 C151.0,252.1 158.4,248.7 165.8,247.8 C173.1,246.8 180.5,246.5 187.9,246.9 C195.2,247.4 206.3,249.9 210.0,250.5"/>
<path d="M33.0,263.6 C36.8,263.1 48.3,261.8 56.0,260.6 C63.7,259.3 71.3,256.6 79.0,256.3 C86.7,256.0 94.3,259.0 102.0,258.6 C109.7,258.2 117.3,254.7 125.0,254.0 C132.7,253.2 140.3,253.7 148.0,254.0 C155.7,254.3 163.3,256.2 171.0,255.7 C178.7,255.3 186.3,251.4 194.0,251.2 C201.7,251.0 209.3,254.2 217.0,254.5 C224.7,254.9 236.2,253.5 240.0,253.3"/>
</g>
<path d="M33.0,268.8 C35.8,268.5 44.0,267.6 50.0,266.8 C56.0,266.1 61.8,265.3 69.0,264.3 C76.2,263.3 84.9,262.1 93.0,260.8 C101.1,259.6 111.7,257.8 117.8,256.8 C123.9,255.8 125.6,255.6 129.6,254.8 C133.6,254.1 139.9,252.7 142.0,252.3" fill="none" stroke="#d9c8e6" stroke-width="2.8" stroke-linecap="round" opacity="0.7"/>
<path d="M33.0,268.8 C35.8,268.5 44.0,267.6 50.0,266.8 C56.0,266.1 61.8,265.3 69.0,264.3 C76.2,263.3 84.9,262.1 93.0,260.8 C101.1,259.6 111.7,257.8 117.8,256.8 C123.9,255.8 125.6,255.6 129.6,254.8 C133.6,254.1 137.1,253.3 142.0,252.3 C146.9,251.3 152.7,250.1 159.3,248.7 C165.9,247.2 174.7,245.0 181.5,243.6 C188.3,242.2 194.3,241.1 200.0,240.0 C205.7,238.9 208.9,238.5 215.6,237.3 C222.3,236.1 231.8,234.2 240.0,232.6 C248.2,230.9 256.9,229.1 264.5,227.4 C272.1,225.7 279.4,224.0 285.3,222.3 C291.2,220.6 295.4,219.1 300.0,217.4 C304.6,215.7 308.2,213.7 313.0,212.0 C317.8,210.3 326.1,207.9 328.7,207.1" fill="none" stroke="#a07cc0" stroke-width="1.3"/>
<path d="M33.0,262.0 C35.8,261.1 44.0,258.3 50.0,256.5 C56.0,254.7 61.8,252.9 69.0,251.0 C76.2,249.1 84.9,247.4 93.0,245.3 C101.1,243.2 109.6,240.4 117.8,238.2 C126.0,236.0 133.8,234.0 142.0,232.3 C150.2,230.6 159.4,229.0 166.7,227.8 C173.9,226.6 179.9,225.9 185.5,225.2 C191.1,224.5 194.8,224.5 200.0,223.8 C205.2,223.1 211.3,221.7 217.0,220.8 C222.7,219.9 228.3,219.0 234.0,218.2 C239.7,217.3 245.3,216.5 251.0,215.7 C256.7,214.8 262.3,214.0 268.0,213.1 C273.7,212.2 279.7,211.5 285.0,210.5 C290.3,209.5 295.3,208.7 300.0,207.1 C304.7,205.5 309.2,203.1 313.0,201.2 C316.8,199.3 319.2,197.0 323.0,195.5 C326.8,194.0 330.7,193.4 336.0,192.2 C341.3,191.0 348.7,190.5 355.0,188.5 C361.3,186.5 367.8,183.5 373.6,180.4 C379.4,177.3 383.9,173.0 389.7,169.7 C395.5,166.3 402.2,162.7 408.5,160.3 C414.8,158.0 421.5,157.2 427.3,155.6 C433.1,153.9 439.4,152.0 443.4,150.4 C447.4,148.8 448.8,147.2 451.5,145.8 C454.2,144.4 456.3,143.5 459.4,141.8 C462.5,140.1 466.6,137.4 470.0,135.5 C473.4,133.6 473.9,132.7 480.0,130.6 C486.1,128.5 497.9,125.3 506.8,123.0 C515.7,120.7 524.7,118.6 533.6,116.6 C542.5,114.6 553.7,113.0 560.4,111.2 C567.1,109.4 569.4,107.8 573.9,105.8 C578.4,103.8 582.8,101.3 587.3,99.0 C591.8,96.7 596.2,94.3 600.7,92.2 C605.2,90.1 610.0,87.9 614.0,86.2 C618.0,84.5 623.0,82.5 624.8,81.8" fill="none" stroke="#d6f5cb" stroke-width="2.9"/>
<path d="M33.0,262.0 C35.8,261.1 44.0,258.3 50.0,256.5 C56.0,254.7 61.8,252.9 69.0,251.0 C76.2,249.1 84.9,247.4 93.0,245.3 C101.1,243.2 109.6,240.4 117.8,238.2 C126.0,236.0 133.8,234.0 142.0,232.3 C150.2,230.6 159.4,229.0 166.7,227.8 C173.9,226.6 179.9,225.9 185.5,225.2 C191.1,224.5 194.8,224.5 200.0,223.8 C205.2,223.1 211.3,221.7 217.0,220.8 C222.7,219.9 228.3,219.0 234.0,218.2 C239.7,217.3 245.3,216.5 251.0,215.7 C256.7,214.8 262.3,214.0 268.0,213.1 C273.7,212.2 279.7,211.5 285.0,210.5 C290.3,209.5 295.3,208.7 300.0,207.1 C304.7,205.5 309.2,203.1 313.0,201.2 C316.8,199.3 319.2,197.0 323.0,195.5 C326.8,194.0 330.7,193.4 336.0,192.2 C341.3,191.0 348.7,190.5 355.0,188.5 C361.3,186.5 367.8,183.5 373.6,180.4 C379.4,177.3 383.9,173.0 389.7,169.7 C395.5,166.3 402.2,162.7 408.5,160.3 C414.8,158.0 421.5,157.2 427.3,155.6 C433.1,153.9 439.4,152.0 443.4,150.4 C447.4,148.8 448.8,147.2 451.5,145.8 C454.2,144.4 456.3,143.5 459.4,141.8 C462.5,140.1 466.6,137.4 470.0,135.5 C473.4,133.6 473.9,132.7 480.0,130.6 C486.1,128.5 497.9,125.3 506.8,123.0 C515.7,120.7 524.7,118.6 533.6,116.6 C542.5,114.6 553.7,113.0 560.4,111.2 C567.1,109.4 569.4,107.8 573.9,105.8 C578.4,103.8 582.8,101.3 587.3,99.0 C591.8,96.7 596.2,94.3 600.7,92.2 C605.2,90.1 610.0,87.9 614.0,86.2 C618.0,84.5 623.0,82.5 624.8,81.8" fill="none" stroke="#84dc67" stroke-width="1.5"/>
<path d="M33.0,262.0 C35.8,261.1 44.0,258.3 50.0,256.5 C56.0,254.7 61.8,252.9 69.0,251.0 C76.2,249.1 84.9,247.4 93.0,245.3 C101.1,243.2 113.7,239.4 117.8,238.2" fill="none" stroke="#9be583" stroke-width="3.0" stroke-linecap="round" opacity="0.75"/>
<path d="M93.0,245.3 C97.1,244.1 109.6,240.4 117.8,238.2 C126.0,236.0 133.8,234.0 142.0,232.3 C150.2,230.6 159.4,229.0 166.7,227.8 C173.9,226.6 182.4,225.6 185.5,225.2" fill="none" stroke="#9be583" stroke-width="2.3" stroke-linecap="round" opacity="0.6"/>
<path d="M33.0,266.0 C35.8,265.3 44.0,263.4 50.0,262.0 C56.0,260.6 61.8,259.0 69.0,257.5 C76.2,256.0 84.9,254.6 93.0,253.0 C101.1,251.4 109.6,249.9 117.8,247.8 C126.0,245.7 133.8,242.9 142.0,240.3 C150.2,237.7 159.5,234.5 166.7,232.0 C173.9,229.5 179.4,227.4 185.0,225.5 C190.6,223.6 194.7,222.3 200.0,220.3 C205.3,218.3 211.4,215.5 217.1,213.3 C222.8,211.2 228.4,209.1 234.1,207.4 C239.8,205.7 246.1,204.5 251.2,203.2 C256.3,201.9 260.5,201.1 264.8,199.6 C269.1,198.1 272.8,196.3 276.8,194.4 C280.8,192.5 284.8,190.2 288.7,188.4 C292.6,186.7 296.6,185.3 300.0,183.9 C303.4,182.5 304.5,182.1 309.3,179.8 C314.1,177.5 325.5,171.7 328.7,170.1" fill="none" stroke="#262626" stroke-width="1.35"/>
</g>
<line x1="32.2" y1="291.5" x2="639.5" y2="291.5" stroke="#6a6a6a" stroke-width="1"/>
<line x1="32.7" y1="291" x2="32.7" y2="294" stroke="#6a6a6a" stroke-width="0.9"/>
<line x1="92.0" y1="291" x2="92.0" y2="294" stroke="#6a6a6a" stroke-width="0.9"/>
<line x1="151.3" y1="291" x2="151.3" y2="294" stroke="#6a6a6a" stroke-width="0.9"/>
<line x1="210.6" y1="291" x2="210.6" y2="294" stroke="#6a6a6a" stroke-width="0.9"/>
<line x1="269.9" y1="291" x2="269.9" y2="294" stroke="#6a6a6a" stroke-width="0.9"/>
<line x1="329.2" y1="291" x2="329.2" y2="294" stroke="#6a6a6a" stroke-width="0.9"/>
<line x1="388.5" y1="291" x2="388.5" y2="294" stroke="#6a6a6a" stroke-width="0.9"/>
<line x1="447.8" y1="291" x2="447.8" y2="294" stroke="#6a6a6a" stroke-width="0.9"/>
<line x1="507.1" y1="291" x2="507.1" y2="294" stroke="#6a6a6a" stroke-width="0.9"/>
<line x1="566.4" y1="291" x2="566.4" y2="294" stroke="#6a6a6a" stroke-width="0.9"/>
<line x1="625.7" y1="291" x2="625.7" y2="294" stroke="#6a6a6a" stroke-width="0.9"/>
<path d="M310.2,86.2 C322,88 336,96 342,112 C348,130 346,150 333.5,167.2" fill="none" stroke="#606060" stroke-width="0.8"/>
<path d="M336.6,165.2 L333.3,167.6 L333.6,163.5" fill="none" stroke="#606060" stroke-width="0.8"/>
<path d="M402,251 C385,258.5 362,260.5 345.3,250.5 C335,243 330.5,228 328.6,211.6" fill="none" stroke="#606060" stroke-width="0.8"/>
<path d="M326.5,214.8 L328.5,211.2 L331,214.6" fill="none" stroke="#606060" stroke-width="0.8"/>
<line x1="28.2" y1="27.4" x2="35.2" y2="21.6" stroke="#90d67f" stroke-width="1.25"/>
<text x="39.3" y="27.2" font-family="Liberation Sans, Arial, sans-serif" font-size="7.7" fill="#222" stroke="#222" stroke-width="0.28" stroke-opacity="0.55">12-month moving average</text>
<text x="631.0" y="27.2" text-anchor="end" font-family="Liberation Sans, Arial, sans-serif" font-size="7.8" fill="#222" stroke="#222" stroke-width="0.28" stroke-opacity="0.55">Renewable share of total capacity</text>
<text transform="translate(633.3,27.0) scale(1,1.14)" font-family="Liberation Sans, Arial, sans-serif" font-size="8.8" fill="#222" stroke="#222" stroke-width="0.28" stroke-opacity="0.55">▼</text>
<text x="630" y="37.0" font-family="Liberation Sans, Arial, sans-serif" font-size="8.1" fill="#222" stroke="#222" stroke-width="0.28" stroke-opacity="0.55">60%</text>
<text x="639.2" y="120.5" text-anchor="end" font-family="Liberation Sans, Arial, sans-serif" font-size="8.1" fill="#222" stroke="#222" stroke-width="0.28" stroke-opacity="0.55">40</text>
<text x="639.2" y="203.7" text-anchor="end" font-family="Liberation Sans, Arial, sans-serif" font-size="8.1" fill="#222" stroke="#222" stroke-width="0.28" stroke-opacity="0.55">20</text>
<text x="638.6" y="286.6" text-anchor="end" font-family="Liberation Sans, Arial, sans-serif" font-size="8.1" fill="#222" stroke="#222" stroke-width="0.28" stroke-opacity="0.55">0</text>
<text x="32.7" y="304.1" text-anchor="middle" font-family="Liberation Sans, Arial, sans-serif" font-size="8.1" fill="#222" stroke="#222" stroke-width="0.28" stroke-opacity="0.55">0</text>
<text x="92.0" y="304.1" text-anchor="middle" font-family="Liberation Sans, Arial, sans-serif" font-size="8.1" fill="#222" stroke="#222" stroke-width="0.28" stroke-opacity="0.55">2</text>
<text x="151.3" y="304.1" text-anchor="middle" font-family="Liberation Sans, Arial, sans-serif" font-size="8.1" fill="#222" stroke="#222" stroke-width="0.28" stroke-opacity="0.55">4</text>
<text x="210.6" y="304.1" text-anchor="middle" font-family="Liberation Sans, Arial, sans-serif" font-size="8.1" fill="#222" stroke="#222" stroke-width="0.28" stroke-opacity="0.55">6</text>
<text x="269.9" y="304.1" text-anchor="middle" font-family="Liberation Sans, Arial, sans-serif" font-size="8.1" fill="#222" stroke="#222" stroke-width="0.28" stroke-opacity="0.55">8</text>
<text x="329.2" y="304.1" text-anchor="middle" font-family="Liberation Sans, Arial, sans-serif" font-size="8.1" fill="#222" stroke="#222" stroke-width="0.28" stroke-opacity="0.55">10</text>
<text x="388.5" y="304.1" text-anchor="middle" font-family="Liberation Sans, Arial, sans-serif" font-size="8.1" fill="#222" stroke="#222" stroke-width="0.28" stroke-opacity="0.55">12</text>
<text x="447.8" y="304.1" text-anchor="middle" font-family="Liberation Sans, Arial, sans-serif" font-size="8.1" fill="#222" stroke="#222" stroke-width="0.28" stroke-opacity="0.55">14</text>
<text x="507.1" y="304.1" text-anchor="middle" font-family="Liberation Sans, Arial, sans-serif" font-size="8.1" fill="#222" stroke="#222" stroke-width="0.28" stroke-opacity="0.55">16</text>
<text x="566.4" y="304.1" text-anchor="middle" font-family="Liberation Sans, Arial, sans-serif" font-size="8.1" fill="#222" stroke="#222" stroke-width="0.28" stroke-opacity="0.55">18</text>
<text x="625.7" y="304.1" text-anchor="middle" font-family="Liberation Sans, Arial, sans-serif" font-size="8.1" fill="#222" stroke="#222" stroke-width="0.28" stroke-opacity="0.55">20</text>
<text x="28.3" y="314.1" font-family="Liberation Sans, Arial, sans-serif" font-size="7.9" fill="#222" stroke="#222" stroke-width="0.28" stroke-opacity="0.55"><tspan font-size="7">▶</tspan><tspan dx="0.7"> Years</tspan> after crossing 5% threshold</text>
<text x="28.0" y="330.2" font-family="Liberation Sans, Arial, sans-serif" font-size="7.84" fill="#222" stroke="#222" stroke-width="0.28" stroke-opacity="0.55">Note: Renewables include all sources of wind and solar and excludes other forms of zero-emissions generation.</text>
<text x="288.7" y="61.6" text-anchor="middle" font-family="Liberation Sans, Arial, sans-serif" font-size="8.0" fill="#222" stroke="#222" stroke-width="0.28" stroke-opacity="0.55"><tspan font-weight="bold">China</tspan> is making</text>
<text x="288.7" y="70.0" text-anchor="middle" font-family="Liberation Sans, Arial, sans-serif" font-size="8.0" fill="#222" stroke="#222" stroke-width="0.28" stroke-opacity="0.55">one of the fastest</text>
<text x="288.7" y="78.4" text-anchor="middle" font-family="Liberation Sans, Arial, sans-serif" font-size="8.0" fill="#222" stroke="#222" stroke-width="0.28" stroke-opacity="0.55">transitions to wind</text>
<text x="288.7" y="86.8" text-anchor="middle" font-family="Liberation Sans, Arial, sans-serif" font-size="8.0" fill="#222" stroke="#222" stroke-width="0.28" stroke-opacity="0.55">and solar</text>
<text x="418.7" y="216.7" text-anchor="middle" font-family="Liberation Sans, Arial, sans-serif" font-size="8.0" fill="#222" stroke="#222" stroke-width="0.28" stroke-opacity="0.55">If the <tspan font-weight="bold" fill="#955fb6" stroke="#955fb6">US</tspan> follows</text>
<text x="418.7" y="225.3" text-anchor="middle" font-family="Liberation Sans, Arial, sans-serif" font-size="8.0" fill="#222" stroke="#222" stroke-width="0.28" stroke-opacity="0.55">the trend, half of its</text>
<text x="418.7" y="234.0" text-anchor="middle" font-family="Liberation Sans, Arial, sans-serif" font-size="8.0" fill="#222" stroke="#222" stroke-width="0.28" stroke-opacity="0.55">electricity could be</text>
<text x="418.7" y="242.6" text-anchor="middle" font-family="Liberation Sans, Arial, sans-serif" font-size="8.0" fill="#222" stroke="#222" stroke-width="0.28" stroke-opacity="0.55">renewable within a</text>
<text x="418.7" y="251.3" text-anchor="middle" font-family="Liberation Sans, Arial, sans-serif" font-size="8.0" fill="#222" stroke="#222" stroke-width="0.28" stroke-opacity="0.55">decade</text>
</svg>
<div class="cap" style="top:349px">图说：全球有87 个国家<i>/</i>地区在清洁能源使用方面通过 5% 的临界点</div>
<div class="cap" style="top:375px">来源：BNEF</div>
</body></html>
